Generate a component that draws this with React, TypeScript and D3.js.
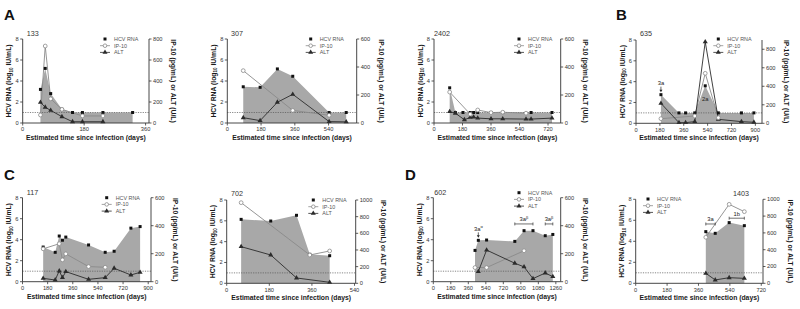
import React from 'react';
import * as d3 from 'd3';

// ---------- data ----------
const HCV_DAYS_133 = [52, 66, 82, 115, 146, 175, 235, 322];
const HCV_133 = [3.2, 5.2, 2.8, 1.3, 1.0, 1.0, 1.0, 1.0];
const IP10_DAYS_133 = [52, 66, 82, 115, 175, 235];
const IP10_133 = [76, 733, 230, 130, 67, 67];
const ALT_DAYS_133 = [52, 66, 82, 115, 146, 175, 235];
const ALT_133 = [197, 150, 120, 60, 12, 12, 12];

const HCV_DAYS_307 = [85, 175, 267, 349, 543, 634];
const HCV_307 = [3.45, 3.4, 5.15, 4.45, 1.0, 1.0];
const IP10_DAYS_307 = [85, 349, 543];
const IP10_307 = [374, 90, 55];
const ALT_DAYS_307 = [85, 175, 267, 349, 543, 634];
const ALT_307 = [38, 17, 148, 205, 10, 8];

const HCV_DAYS_2402 = [99, 135, 183, 229, 250, 276, 360, 434, 613, 745];
const HCV_2402 = [3.35, 1, 1, 1, 1, 1, 1, 1, 1, 1];
const IP10_DAYS_2402 = [99, 229, 276, 360, 434, 581];
const IP10_2402 = [221, 63, 93, 74, 77, 70];
const ALT_DAYS_2402 = [99, 135, 192, 229, 250, 276, 360, 434, 581, 613, 745];
const ALT_2402 = [81, 70, 23, 40, 42, 35, 30, 30, 28, 28, 35];

const HCV_DAYS_635 = [188, 324, 374, 443, 522, 621, 795, 889];
const HCV_635 = [2.75, 1, 1, 1, 3.6, 1, 1, 1];
const IP10_DAYS_635 = [188, 443, 522, 621];
const IP10_635 = [50, 79, 540, 60];
const ALT_DAYS_635 = [188, 324, 374, 443, 522, 621, 795, 889];
const ALT_635 = [216, 7, 7, 18, 880, 43, 18, 11];

const HCV_DAYS_117 = [148, 234, 263, 286, 310, 473, 592, 656, 776, 842];
const HCV_117 = [3.3, 2.8, 4.35, 3.95, 4.25, 3.5, 2.8, 2.9, 5.1, 5.25];
const IP10_DAYS_117 = [148, 263, 286, 310, 473, 592];
const IP10_117 = [235, 271, 156, 199, 108, 103];
const ALT_DAYS_117 = [148, 234, 263, 286, 310, 473, 592, 656, 776, 842];
const ALT_117 = [24, 12, 77, 29, 72, 17, 29, 96, 48, 67];

const HCV_DAYS_702 = [61, 186, 295, 351, 435];
const HCV_702 = [6.14, 5.98, 6.53, 2.78, 2.65];
const IP10_DAYS_702 = [61, 351, 435];
const IP10_702 = [968, 340, 388];
const ALT_DAYS_702 = [61, 186, 295, 435];
const ALT_702 = [440, 340, 64, 12];

const HCV_DAYS_602 = [429, 463, 548, 838, 933, 1025, 1151, 1229];
const HCV_602 = [2.98, 3.94, 3.97, 3.84, 4.86, 4.86, 4.38, 4.5];
const IP10_DAYS_602 = [429, 548, 933];
const IP10_602 = [101, 101, 221];
const ALT_DAYS_602 = [463, 548, 838, 933, 1025, 1151, 1229];
const ALT_602 = [72, 226, 132, 106, 22, 62, 36];

const HCV_DAYS_1403 = [402, 456, 536, 623];
const HCV_1403 = [4.92, 4.76, 5.78, 5.49];
const IP10_DAYS_1403 = [402, 536, 623];
const IP10_1403 = [548, 940, 853];
const ALT_DAYS_1403 = [402, 456, 536, 623];
const ALT_1403 = [119, 40, 67, 59];

const LEFT_TICKS = [0, 2, 4, 6, 8];
const LEGEND_LABELS = ['HCV RNA', 'IP-10', 'ALT'];
const X_TITLE = 'Estimated time since infection (days)';
const RIGHT_TITLE = 'IP-10 (pg/mL) or ALT (U/L)';
const DETECTION_LIMIT = 1;

// ---------- layout ----------
const FONT = "'Liberation Sans', Arial, Helvetica, sans-serif";

type Ann =
  | { kind: 'arrow'; day: number; val: number; label: string; sup?: string }
  | { kind: 'below'; day: number; val: number; label: string }
  | { kind: 'bracket'; d0: number; d1: number; val: number; label: string; sup?: string };

interface Cfg {
  id: string;
  left: number; right: number; top: number; bottom: number;
  xMax: number; xTicks: number[];
  rMax: number; rTicks: number[];
  legendX: number; legendY: number;
  titleX: number; titleY: number; titleAnchor?: string;
  hcvDays: number[]; hcv: number[];
  ipDays: number[]; ip: number[];
  altDays: number[]; alt: number[];
  anns?: Ann[];
}

const t180 = (n: number) => d3.range(0, n + 1, 180);

const PANELS: Cfg[] = [
  { id: '133', left: 22.7, right: 149, top: 39, bottom: 123, xMax: 370, xTicks: t180(360),
    rMax: 800, rTicks: d3.range(0, 801, 200), legendX: 105, legendY: 39, titleX: 26.7, titleY: 36,
    hcvDays: HCV_DAYS_133, hcv: HCV_133, ipDays: IP10_DAYS_133, ip: IP10_133, altDays: ALT_DAYS_133, alt: ALT_133 },
  { id: '307', left: 227.3, right: 356.7, top: 39, bottom: 123, xMax: 690, xTicks: t180(540),
    rMax: 600, rTicks: d3.range(0, 601, 200), legendX: 310.7, legendY: 39, titleX: 231, titleY: 36,
    hcvDays: HCV_DAYS_307, hcv: HCV_307, ipDays: IP10_DAYS_307, ip: IP10_307, altDays: ALT_DAYS_307, alt: ALT_307 },
  { id: '2402', left: 434, right: 560.7, top: 39, bottom: 123, xMax: 800, xTicks: t180(720),
    rMax: 600, rTicks: d3.range(0, 601, 200), legendX: 519, legendY: 39, titleX: 434, titleY: 36,
    hcvDays: HCV_DAYS_2402, hcv: HCV_2402, ipDays: IP10_DAYS_2402, ip: IP10_2402, altDays: ALT_DAYS_2402, alt: ALT_2402 },
  { id: '635', left: 636, right: 762, top: 40, bottom: 123.3, xMax: 950, xTicks: t180(900),
    rMax: 900, rTicks: d3.range(0, 801, 200), legendX: 718.3, legendY: 39, titleX: 640, titleY: 36,
    hcvDays: HCV_DAYS_635, hcv: HCV_635, ipDays: IP10_DAYS_635, ip: IP10_635, altDays: ALT_DAYS_635, alt: ALT_635,
    anns: [
      { kind: 'arrow', day: 188, val: 2.75, label: '3a' },
      { kind: 'below', day: 522, val: 3.6, label: '2a' },
    ] },
  { id: '117', left: 22.5, right: 151, top: 197.7, bottom: 281.7, xMax: 920, xTicks: t180(900),
    rMax: 600, rTicks: d3.range(0, 601, 200), legendX: 106.7, legendY: 197.7, titleX: 26.7, titleY: 194.5,
    hcvDays: HCV_DAYS_117, hcv: HCV_117, ipDays: IP10_DAYS_117, ip: IP10_117, altDays: ALT_DAYS_117, alt: ALT_117 },
  { id: '702', left: 226.7, right: 355.7, top: 200, bottom: 283.3, xMax: 545, xTicks: t180(540),
    rMax: 1000, rTicks: d3.range(0, 1001, 200), legendX: 313.3, legendY: 200, titleX: 231, titleY: 196,
    hcvDays: HCV_DAYS_702, hcv: HCV_702, ipDays: IP10_DAYS_702, ip: IP10_702, altDays: ALT_DAYS_702, alt: ALT_702 },
  { id: '602', left: 433.3, right: 560.7, top: 197.7, bottom: 281.7, xMax: 1310, xTicks: t180(1260),
    rMax: 600, rTicks: d3.range(0, 601, 200), legendX: 519, legendY: 192.7, titleX: 434.3, titleY: 195,
    hcvDays: HCV_DAYS_602, hcv: HCV_602, ipDays: IP10_DAYS_602, ip: IP10_602, altDays: ALT_DAYS_602, alt: ALT_602,
    anns: [
      { kind: 'arrow', day: 463, val: 3.94, label: '3a', sup: 'α' },
      { kind: 'bracket', d0: 838, d1: 1025, val: 5.5, label: '3a', sup: 'β' },
      { kind: 'bracket', d0: 1151, d1: 1229, val: 5.5, label: '3a', sup: 'β' },
    ] },
  { id: '1403', left: 635.7, right: 763, top: 199.3, bottom: 283.3, xMax: 730, xTicks: t180(720),
    rMax: 1000, rTicks: d3.range(0, 1001, 200), legendX: 648, legendY: 199, titleX: 741, titleY: 196, titleAnchor: 'middle',
    hcvDays: HCV_DAYS_1403, hcv: HCV_1403, ipDays: IP10_DAYS_1403, ip: IP10_1403, altDays: ALT_DAYS_1403, alt: ALT_1403,
    anns: [
      { kind: 'bracket', d0: 402, d1: 456, val: 5.65, label: '3a' },
      { kind: 'bracket', d0: 536, d1: 623, val: 6.2, label: '1b' },
    ] },
];

const LETTERS = [
  { t: 'A', x: 4, y: 20 },
  { t: 'B', x: 616, y: 20 },
  { t: 'C', x: 4, y: 180 },
  { t: 'D', x: 405, y: 180 },
];

const AREA_FILL = '#a8a8a8';
const AXIS = '#333';
const IP_COLOR = '#8a8a8a';
const ALT_COLOR = '#2b2b2b';

const sq = d3.symbol(d3.symbolSquare, 9)() as string;
const tri = d3.symbol(d3.symbolTriangle, 11)() as string;

function Panel({ c }: { c: Cfg }) {
  const x = d3.scaleLinear().domain([0, c.xMax]).range([c.left, c.right]);
  const yL = d3.scaleLinear().domain([0, 8]).range([c.bottom, c.top]);
  const yR = d3.scaleLinear().domain([0, c.rMax]).range([c.bottom, c.top]);
  const hcvPts = c.hcvDays.map((d, i) => [d, c.hcv[i]] as [number, number]);
  const ipPts = c.ipDays.map((d, i) => [d, c.ip[i]] as [number, number]);
  const altPts = c.altDays.map((d, i) => [d, c.alt[i]] as [number, number]);
  const area = d3.area<[number, number]>().x(d => x(d[0])).y0(yL(0)).y1(d => yL(d[1]))(hcvPts) as string;
  const ipLine = d3.line<[number, number]>().x(d => x(d[0])).y(d => yR(d[1]))(ipPts) as string;
  const altLine = d3.line<[number, number]>().x(d => x(d[0])).y(d => yR(d[1]))(altPts) as string;
  const maxLab = Math.max(...c.rTicks.map(t => String(t).length));
  const rtX = c.right + 13 + maxLab * 3.1;
  const midY = (c.top + c.bottom) / 2;
  const tickFont = 5.7;
  const titleFont = 6.8;
  const ly = (i: number) => c.legendY + i * 6.7;

  return (
    <g>
      <path d={area} fill={AREA_FILL} />
      <line x1={c.left} x2={c.right} y1={yL(DETECTION_LIMIT)} y2={yL(DETECTION_LIMIT)}
        stroke="#555" strokeWidth={0.7} strokeDasharray="1.2,1.2" />
      <path d={ipLine} fill="none" stroke={IP_COLOR} strokeWidth={0.9} />
      <path d={altLine} fill="none" stroke={ALT_COLOR} strokeWidth={0.9} />
      {hcvPts.map((p, i) => (
        <path key={'h' + i} d={sq} transform={`translate(${x(p[0])},${yL(p[1])})`} fill="#111" />
      ))}
      {altPts.map((p, i) => (
        <path key={'a' + i} d={tri} transform={`translate(${x(p[0])},${yR(p[1])})`} fill={ALT_COLOR} />
      ))}
      {ipPts.map((p, i) => (
        <circle key={'i' + i} cx={x(p[0])} cy={yR(p[1])} r={1.9} fill="#fff" stroke={IP_COLOR} strokeWidth={0.8} />
      ))}

      {/* axes */}
      <line x1={c.left} x2={c.left} y1={c.top} y2={c.bottom} stroke={AXIS} strokeWidth={0.9} />
      <line x1={c.right} x2={c.right} y1={c.top} y2={c.bottom} stroke={AXIS} strokeWidth={0.9} />
      <line x1={c.left} x2={c.right} y1={c.bottom} y2={c.bottom} stroke={AXIS} strokeWidth={0.9} />
      {LEFT_TICKS.map(t => (
        <g key={'l' + t}>
          <line x1={c.left - 2.5} x2={c.left} y1={yL(t)} y2={yL(t)} stroke={AXIS} strokeWidth={0.8} />
          <text x={c.left - 4} y={yL(t)} dy="0.35em" textAnchor="end" fontSize={tickFont} fill="#333" fontFamily={FONT}>{t}</text>
        </g>
      ))}
      {c.rTicks.map(t => (
        <g key={'r' + t}>
          <line x1={c.right} x2={c.right + 2.5} y1={yR(t)} y2={yR(t)} stroke={AXIS} strokeWidth={0.8} />
          <text x={c.right + 4} y={yR(t)} dy="0.35em" textAnchor="start" fontSize={tickFont} fill="#333" fontFamily={FONT}>{t}</text>
        </g>
      ))}
      {c.xTicks.map(t => (
        <g key={'x' + t}>
          <line x1={x(t)} x2={x(t)} y1={c.bottom} y2={c.bottom + 2.5} stroke={AXIS} strokeWidth={0.8} />
          <text x={x(t)} y={c.bottom + 8.3} textAnchor="middle" fontSize={tickFont} fill="#333" fontFamily={FONT}>{t}</text>
        </g>
      ))}

      {/* titles */}
      <text x={(c.left + c.right) / 2} y={c.bottom + 16.8} textAnchor="middle" fontSize={titleFont} fontWeight="bold" fontFamily={FONT} fill="#1a1a1a">{X_TITLE}</text>
      <text transform={`translate(${c.left - 11.5},${midY}) rotate(-90)`} textAnchor="middle" fontSize={titleFont} fontWeight="bold" fontFamily={FONT} fill="#1a1a1a">
        HCV RNA (log<tspan fontSize={4.5} dy={1.6}>10</tspan><tspan dy={-1.6}> IU/mL)</tspan>
      </text>
      <text transform={`translate(${rtX},${midY}) rotate(90)`} textAnchor="middle" fontSize={titleFont} fontWeight="bold" fontFamily={FONT} fill="#1a1a1a">{RIGHT_TITLE}</text>
      <text x={c.titleX} y={c.titleY} textAnchor={c.titleAnchor || 'start'} fontSize={7.2} fontFamily={FONT} fill="#333">{c.id}</text>

      {/* legend */}
      <path d={sq} transform={`translate(${c.legendX},${ly(0)})`} fill="#111" />
      <line x1={c.legendX - 5} x2={c.legendX + 5} y1={ly(1)} y2={ly(1)} stroke={IP_COLOR} strokeWidth={0.8} />
      <circle cx={c.legendX} cy={ly(1)} r={1.8} fill="#fff" stroke={IP_COLOR} strokeWidth={0.8} />
      <line x1={c.legendX - 5} x2={c.legendX + 5} y1={ly(2)} y2={ly(2)} stroke={ALT_COLOR} strokeWidth={0.8} />
      <path d={tri} transform={`translate(${c.legendX},${ly(2)})`} fill={ALT_COLOR} />
      {LEGEND_LABELS.map((l, i) => (
        <text key={l} x={c.legendX + 9} y={ly(i)} dy="0.35em" fontSize={5.4} fill="#555" fontFamily={FONT}>{l}</text>
      ))}

      {/* genotype annotations */}
      {(c.anns || []).map((a, i) => {
        if (a.kind === 'arrow') {
          const px = x(a.day), py = yL(a.val);
          return (
            <g key={'an' + i}>
              <text x={px} y={py - 9.5} textAnchor="middle" fontSize={5.8} fill="#222" fontFamily={FONT}>
                {a.label}{a.sup ? <tspan fontSize={4} dy={-2.5}>{a.sup}</tspan> : null}
              </text>
              <line x1={px} x2={px} y1={py - 8} y2={py - 4.5} stroke="#222" strokeWidth={0.7} />
              <path d={`M${px - 1.5},${py - 5}L${px + 1.5},${py - 5}L${px},${py - 2.5}Z`} fill="#222" />
            </g>
          );
        }
        if (a.kind === 'below') {
          const px = x(a.day), py = yL(a.val);
          return (
            <text key={'an' + i} x={px} y={py + 15} textAnchor="middle" fontSize={5.8} fill="#222" fontFamily={FONT}>{a.label}</text>
          );
        }
        const x0 = x(a.d0), x1 = x(a.d1), by = yL(a.val);
        return (
          <g key={'an' + i}>
            <line x1={x0} x2={x1} y1={by} y2={by} stroke="#333" strokeWidth={0.7} />
            <line x1={x0} x2={x0} y1={by - 1.5} y2={by + 1.5} stroke="#333" strokeWidth={0.7} />
            <line x1={x1} x2={x1} y1={by - 1.5} y2={by + 1.5} stroke="#333" strokeWidth={0.7} />
            <text x={(x0 + x1) / 2} y={by - 2.5} textAnchor="middle" fontSize={5.8} fill="#222" fontFamily={FONT}>
              {a.label}{a.sup ? <tspan fontSize={4} dy={-2.5}>{a.sup}</tspan> : null}
            </text>
          </g>
        );
      })}
    </g>
  );
}

export default function App() {
  return (
    <svg width={800} height={309} style={{ position: 'absolute', left: 0, top: 0, background: '#fff' }}>
      <rect width={800} height={309} fill="#fff" />
      {PANELS.map(c => <Panel key={c.id} c={c} />)}
      {LETTERS.map(l => (
        <text key={l.t} x={l.x} y={l.y} fontSize={15} fontWeight="bold" fontFamily={FONT} fill="#111">{l.t}</text>
      ))}
    </svg>
  );
}
